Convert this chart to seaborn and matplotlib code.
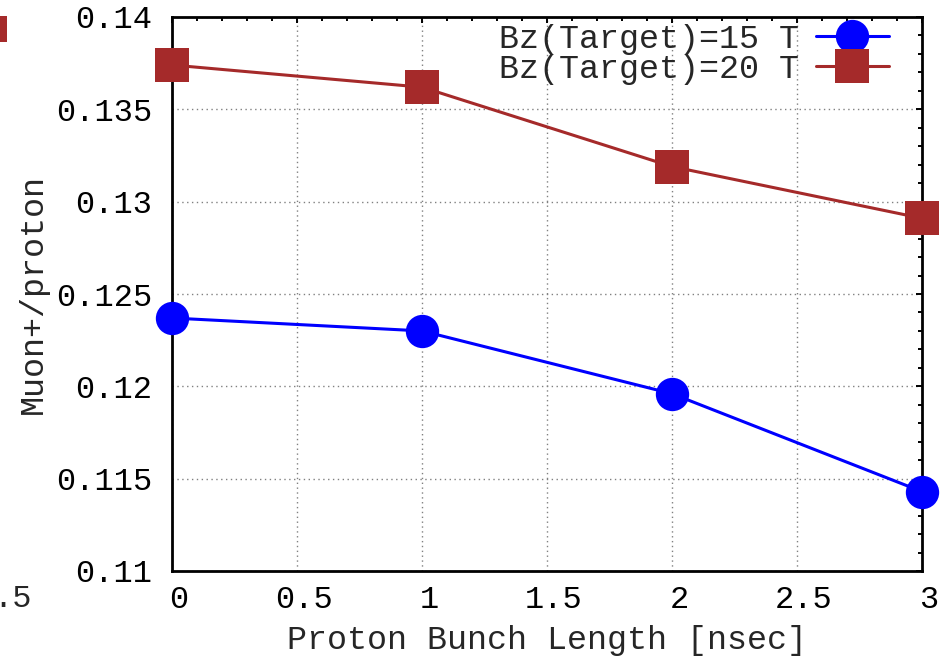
import matplotlib
matplotlib.use("Agg")
import matplotlib.pyplot as plt
import matplotlib.transforms as mtransforms
import seaborn as sns
import pandas as pd
from matplotlib.ticker import MultipleLocator
from matplotlib.patches import Rectangle

sns.set_theme(style="white")
plt.rcParams['font.family'] = ['Liberation Mono', 'DejaVu Sans Mono']

# data
bunch_length = [0, 1, 2, 3]
muon_15T = [0.1237, 0.1230, 0.1196, 0.1143]
muon_20T = [0.1374, 0.1362, 0.1319, 0.1291]
series_labels = ['Bz(Target)=15 T', 'Bz(Target)=20 T']
xtick_vals = [0, 0.5, 1, 1.5, 2, 2.5, 3]
xtick_labels = ['0', '0.5', '1', '1.5', '2', '2.5', '3']
ytick_vals = [0.11, 0.115, 0.12, 0.125, 0.13, 0.135, 0.14]
ytick_labels = ['0.11', '0.115', '0.12', '0.125', '0.13', '0.135', '0.14']

df = pd.DataFrame({'x': bunch_length * 2,
                   'y': muon_15T + muon_20T,
                   'field': [series_labels[0]] * 4 + [series_labels[1]] * 4})

fs_tick = 23
fs_text = 24
fig = plt.figure(figsize=(9.43, 6.56), dpi=100)
ax = fig.add_axes([172 / 943, 1 - 571 / 656, 750 / 943, 554 / 656])

colors = {series_labels[0]: '#0000ff', series_labels[1]: '#a52a2a'}
markers = {series_labels[0]: 'o', series_labels[1]: 's'}
for lab in series_labels:
    sub = df[df['field'] == lab]
    sns.lineplot(data=sub, x='x', y='y', ax=ax, color=colors[lab], marker=markers[lab],
                 markersize=24, markeredgewidth=0, linewidth=2.2, label=lab,
                 clip_on=False, zorder=3)

ax.set_xlim(0, 3)
ax.set_ylim(0.11, 0.14)
ax.set_xticks(xtick_vals, xtick_labels, fontsize=fs_tick)
ax.set_yticks(ytick_vals, ytick_labels, fontsize=fs_tick)
ax.xaxis.set_minor_locator(MultipleLocator(0.1))
ax.yaxis.set_minor_locator(MultipleLocator(0.001))
ax.tick_params(which='both', direction='in', top=True, right=True, colors='black')
ax.tick_params(which='major', length=4.5, width=1.4)
ax.tick_params(which='minor', length=2.8, width=1.4)
ax.tick_params(axis='x', pad=10)
ax.tick_params(axis='y', pad=14)
# gnuplot puts the x tick labels a little to the right of the ticks
shift = mtransforms.ScaledTranslation(7 / 100, 0, fig.dpi_scale_trans)
for t in ax.get_xticklabels():
    t.set_transform(t.get_transform() + shift)
for s in ax.spines.values():
    s.set_linewidth(2.0)
    s.set_color('black')

ax.grid(True, which='major', color='#808080', linestyle=(0, (1, 2.5)), linewidth=1.0)

ax.set_xlabel('Proton Bunch Length [nsec]', fontsize=fs_text, labelpad=7)
ax.set_ylabel('Muon+/proton', fontsize=fs_text)
ax.yaxis.set_label_coords(-0.164, 0.5)

ax.legend(loc='upper right', bbox_to_anchor=(0.956, 0.988), frameon=False,
          markerfirst=False, handlelength=2.2, handletextpad=0.5, labelspacing=-0.03,
          borderpad=0, borderaxespad=0, numpoints=1, fontsize=fs_text)

# bits of the neighbouring panel that show at the left edge of the crop
fig.text(32 / 943, 1 - 599 / 656, '.5', fontsize=fs_tick, ha='right', va='center')
fig.add_artist(Rectangle((0, 1 - 42 / 656), 7 / 943, 26 / 656,
                         transform=fig.transFigure, color='#a52a2a', lw=0))

fig.savefig('out.png', dpi=100)
